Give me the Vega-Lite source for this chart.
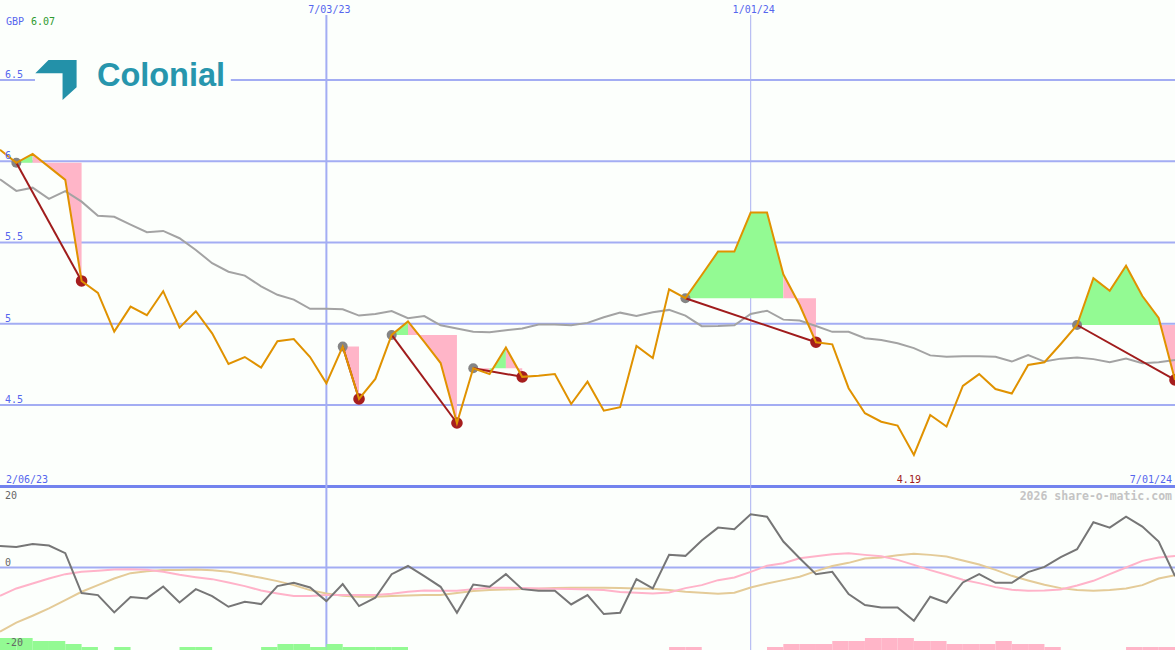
{
  "$schema": "https://vega.github.io/schema/vega-lite/v6.json",
  "width": 1175,
  "height": 650,
  "padding": 0,
  "autosize": {"type": "none"},
  "background": "#fcfffc",
  "config": {"view": {"stroke": null}, "text": {"font": "DejaVu Sans Mono", "fontSize": 10}},
  "datasets": {
    "w": [
      {"d": "2023-02-13", "p": 6.07, "m": 5.889, "k": 6.5, "s1": -8.5, "s2": -19.3},
      {"d": "2023-02-20", "p": 5.99, "m": 5.817, "k": 6.2, "s1": -6.3, "s2": -16.6},
      {"d": "2023-02-27", "p": 6.045, "m": 5.837, "k": 7.1, "s1": -4.8, "s2": -14.5},
      {"d": "2023-03-06", "p": 5.965, "m": 5.768, "k": 6.6, "s1": -3.3, "s2": -12.3},
      {"d": "2023-03-13", "p": 5.885, "m": 5.816, "k": 4.3, "s1": -2.0, "s2": -9.8},
      {"d": "2023-03-20", "p": 5.263, "m": 5.751, "k": -7.7, "s1": -1.3, "s2": -7.3},
      {"d": "2023-03-27", "p": 5.19, "m": 5.664, "k": -8.3, "s1": -1.0, "s2": -5.3},
      {"d": "2023-04-03", "p": 4.951, "m": 5.658, "k": -13.5, "s1": -0.6, "s2": -3.3},
      {"d": "2023-04-10", "p": 5.105, "m": 5.61, "k": -8.9, "s1": -0.5, "s2": -1.7},
      {"d": "2023-04-17", "p": 5.052, "m": 5.563, "k": -9.3, "s1": -0.7, "s2": -1.1},
      {"d": "2023-04-24", "p": 5.2, "m": 5.571, "k": -5.7, "s1": -1.3, "s2": -0.75},
      {"d": "2023-05-01", "p": 4.976, "m": 5.526, "k": -10.5, "s1": -2.2, "s2": -0.75},
      {"d": "2023-05-08", "p": 5.077, "m": 5.454, "k": -6.5, "s1": -2.9, "s2": -0.6},
      {"d": "2023-05-15", "p": 4.941, "m": 5.372, "k": -8.6, "s1": -3.5, "s2": -0.8},
      {"d": "2023-05-22", "p": 4.752, "m": 5.32, "k": -11.8, "s1": -4.5, "s2": -1.3},
      {"d": "2023-05-29", "p": 4.795, "m": 5.296, "k": -10.3, "s1": -5.6, "s2": -2.2},
      {"d": "2023-06-05", "p": 4.73, "m": 5.23, "k": -11.0, "s1": -6.9, "s2": -3.1},
      {"d": "2023-06-12", "p": 4.892, "m": 5.178, "k": -5.6, "s1": -7.8, "s2": -4.1},
      {"d": "2023-06-19", "p": 4.906, "m": 5.148, "k": -4.6, "s1": -8.6, "s2": -5.3},
      {"d": "2023-06-26", "p": 4.795, "m": 5.092, "k": -6.0, "s1": -8.6, "s2": -6.8},
      {"d": "2023-07-03", "p": 4.633, "m": 5.092, "k": -10.1, "s1": -8.3, "s2": -7.8},
      {"d": "2023-07-10", "p": 4.859, "m": 5.089, "k": -5.0, "s1": -8.3, "s2": -8.5},
      {"d": "2023-07-17", "p": 4.537, "m": 5.05, "k": -11.6, "s1": -8.3, "s2": -8.8},
      {"d": "2023-07-24", "p": 4.66, "m": 5.06, "k": -9.1, "s1": -8.3, "s2": -8.8},
      {"d": "2023-07-31", "p": 4.931, "m": 5.078, "k": -2.0, "s1": -7.9, "s2": -8.6},
      {"d": "2023-08-07", "p": 5.014, "m": 5.034, "k": 0.45, "s1": -7.3, "s2": -8.4},
      {"d": "2023-08-14", "p": 4.888, "m": 5.047, "k": -2.6, "s1": -6.9, "s2": -8.3},
      {"d": "2023-08-21", "p": 4.758, "m": 4.99, "k": -5.8, "s1": -7.0, "s2": -8.3},
      {"d": "2023-08-28", "p": 4.389, "m": 4.97, "k": -13.6, "s1": -7.0, "s2": -7.7},
      {"d": "2023-09-04", "p": 4.726, "m": 4.95, "k": -5.1, "s1": -6.5, "s2": -7.1},
      {"d": "2023-09-11", "p": 4.69, "m": 4.947, "k": -5.8, "s1": -6.1, "s2": -6.8},
      {"d": "2023-09-18", "p": 4.853, "m": 4.96, "k": -2.0, "s1": -6.1, "s2": -6.6},
      {"d": "2023-09-25", "p": 4.673, "m": 4.97, "k": -6.5, "s1": -6.2, "s2": -6.5},
      {"d": "2023-10-02", "p": 4.68, "m": 4.995, "k": -7.0, "s1": -6.3, "s2": -6.4},
      {"d": "2023-10-09", "p": 4.69, "m": 4.995, "k": -7.0, "s1": -6.4, "s2": -6.2},
      {"d": "2023-10-16", "p": 4.506, "m": 4.99, "k": -11.1, "s1": -6.5, "s2": -6.1},
      {"d": "2023-10-23", "p": 4.643, "m": 5.005, "k": -8.3, "s1": -6.6, "s2": -6.1},
      {"d": "2023-10-30", "p": 4.465, "m": 5.04, "k": -14.0, "s1": -6.8, "s2": -6.1},
      {"d": "2023-11-06", "p": 4.486, "m": 5.068, "k": -13.6, "s1": -7.4, "s2": -6.2},
      {"d": "2023-11-13", "p": 4.863, "m": 5.048, "k": -3.5, "s1": -7.6, "s2": -6.3},
      {"d": "2023-11-20", "p": 4.789, "m": 5.07, "k": -6.3, "s1": -7.8, "s2": -6.4},
      {"d": "2023-11-27", "p": 5.212, "m": 5.085, "k": 3.8, "s1": -7.5, "s2": -6.8},
      {"d": "2023-12-04", "p": 5.157, "m": 5.05, "k": 3.5, "s1": -6.2, "s2": -7.3},
      {"d": "2023-12-11", "p": 5.3, "m": 4.985, "k": 8.1, "s1": -5.3, "s2": -7.6},
      {"d": "2023-12-18", "p": 5.444, "m": 4.986, "k": 12.0, "s1": -3.8, "s2": -7.9},
      {"d": "2023-12-25", "p": 5.444, "m": 4.99, "k": 11.5, "s1": -3.0, "s2": -7.6},
      {"d": "2024-01-01", "p": 5.684, "m": 5.06, "k": 16.0, "s1": -1.3, "s2": -6.0},
      {"d": "2024-01-08", "p": 5.684, "m": 5.08, "k": 15.3, "s1": 0.5, "s2": -4.8},
      {"d": "2024-01-15", "p": 5.304, "m": 5.025, "k": 7.8, "s1": 1.3, "s2": -3.8},
      {"d": "2024-01-22", "p": 5.115, "m": 5.02, "k": 2.8, "s1": 2.8, "s2": -2.8},
      {"d": "2024-01-29", "p": 4.886, "m": 4.986, "k": -2.0, "s1": 3.4, "s2": -1.1},
      {"d": "2024-02-05", "p": 4.873, "m": 4.95, "k": -1.3, "s1": 4.0, "s2": 0.45},
      {"d": "2024-02-12", "p": 4.603, "m": 4.95, "k": -8.0, "s1": 4.3, "s2": 1.4},
      {"d": "2024-02-19", "p": 4.449, "m": 4.911, "k": -11.3, "s1": 3.8, "s2": 2.7},
      {"d": "2024-02-26", "p": 4.397, "m": 4.9, "k": -12.0, "s1": 3.4, "s2": 3.0},
      {"d": "2024-03-04", "p": 4.373, "m": 4.88, "k": -12.0, "s1": 2.3, "s2": 3.7},
      {"d": "2024-03-11", "p": 4.192, "m": 4.85, "k": -16.0, "s1": 0.8, "s2": 4.1},
      {"d": "2024-03-18", "p": 4.438, "m": 4.805, "k": -8.8, "s1": -0.8, "s2": 3.8},
      {"d": "2024-03-25", "p": 4.367, "m": 4.797, "k": -10.6, "s1": -2.2, "s2": 3.3},
      {"d": "2024-04-01", "p": 4.617, "m": 4.8, "k": -4.5, "s1": -3.7, "s2": 2.1},
      {"d": "2024-04-08", "p": 4.69, "m": 4.8, "k": -2.0, "s1": -4.7, "s2": 0.9},
      {"d": "2024-04-15", "p": 4.598, "m": 4.797, "k": -4.6, "s1": -5.9, "s2": -0.7},
      {"d": "2024-04-22", "p": 4.57, "m": 4.767, "k": -4.6, "s1": -6.7, "s2": -2.5},
      {"d": "2024-04-29", "p": 4.746, "m": 4.807, "k": -1.4, "s1": -7.0, "s2": -3.9},
      {"d": "2024-05-06", "p": 4.763, "m": 4.767, "k": 0.2, "s1": -6.9, "s2": -5.2},
      {"d": "2024-05-13", "p": 4.875, "m": 4.785, "k": 3.1, "s1": -6.6, "s2": -6.2},
      {"d": "2024-05-20", "p": 4.992, "m": 4.792, "k": 5.5, "s1": -5.4, "s2": -6.8},
      {"d": "2024-05-27", "p": 5.28, "m": 4.782, "k": 13.6, "s1": -4.0, "s2": -7.0},
      {"d": "2024-06-03", "p": 5.203, "m": 4.763, "k": 12.0, "s1": -2.0, "s2": -6.8},
      {"d": "2024-06-10", "p": 5.357, "m": 4.785, "k": 15.3, "s1": 0.0, "s2": -6.3},
      {"d": "2024-06-17", "p": 5.17, "m": 4.757, "k": 12.3, "s1": 2.0, "s2": -5.3},
      {"d": "2024-06-24", "p": 5.035, "m": 4.763, "k": 7.8, "s1": 3.0, "s2": -3.3},
      {"d": "2024-07-01", "p": 4.654, "m": 4.777, "k": -2.6, "s1": 3.5, "s2": -2.3}
    ],
    "fills": [
      {"r": "A", "c": "up", "d": "2023-02-20", "p": 5.99, "b": 5.99},
      {"r": "A", "c": "up", "d": "2023-02-27", "p": 6.045, "b": 5.99},
      {"r": "B", "c": "down", "d": "2023-02-27", "p": 6.045, "b": 5.99},
      {"r": "B", "c": "down", "d": "2023-03-06", "p": 5.965, "b": 5.99},
      {"r": "B", "c": "down", "d": "2023-03-13", "p": 5.885, "b": 5.99},
      {"r": "B", "c": "down", "d": "2023-03-20", "p": 5.263, "b": 5.99},
      {"r": "C", "c": "down", "d": "2023-07-10", "p": 4.859, "b": 4.859},
      {"r": "C", "c": "down", "d": "2023-07-17", "p": 4.537, "b": 4.859},
      {"r": "D", "c": "up", "d": "2023-07-31", "p": 4.931, "b": 4.931},
      {"r": "D", "c": "up", "d": "2023-08-07", "p": 5.014, "b": 4.931},
      {"r": "E", "c": "down", "d": "2023-08-07", "p": 5.014, "b": 4.931},
      {"r": "E", "c": "down", "d": "2023-08-14", "p": 4.888, "b": 4.931},
      {"r": "E", "c": "down", "d": "2023-08-21", "p": 4.758, "b": 4.931},
      {"r": "E", "c": "down", "d": "2023-08-28", "p": 4.389, "b": 4.931},
      {"r": "F", "c": "down", "d": "2023-09-04", "p": 4.726, "b": 4.726},
      {"r": "F", "c": "down", "d": "2023-09-11", "p": 4.69, "b": 4.726},
      {"r": "G", "c": "up", "d": "2023-09-11", "p": 4.69, "b": 4.726},
      {"r": "G", "c": "up", "d": "2023-09-18", "p": 4.853, "b": 4.726},
      {"r": "H", "c": "down", "d": "2023-09-18", "p": 4.853, "b": 4.726},
      {"r": "H", "c": "down", "d": "2023-09-25", "p": 4.673, "b": 4.726},
      {"r": "I", "c": "up", "d": "2023-12-04", "p": 5.157, "b": 5.157},
      {"r": "I", "c": "up", "d": "2023-12-11", "p": 5.3, "b": 5.157},
      {"r": "I", "c": "up", "d": "2023-12-18", "p": 5.444, "b": 5.157},
      {"r": "I", "c": "up", "d": "2023-12-25", "p": 5.444, "b": 5.157},
      {"r": "I", "c": "up", "d": "2024-01-01", "p": 5.684, "b": 5.157},
      {"r": "I", "c": "up", "d": "2024-01-08", "p": 5.684, "b": 5.157},
      {"r": "I", "c": "up", "d": "2024-01-15", "p": 5.304, "b": 5.157},
      {"r": "J", "c": "down", "d": "2024-01-15", "p": 5.304, "b": 5.157},
      {"r": "J", "c": "down", "d": "2024-01-22", "p": 5.115, "b": 5.157},
      {"r": "J", "c": "down", "d": "2024-01-29", "p": 4.886, "b": 5.157},
      {"r": "K", "c": "up", "d": "2024-05-20", "p": 4.992, "b": 4.992},
      {"r": "K", "c": "up", "d": "2024-05-27", "p": 5.28, "b": 4.992},
      {"r": "K", "c": "up", "d": "2024-06-03", "p": 5.203, "b": 4.992},
      {"r": "K", "c": "up", "d": "2024-06-10", "p": 5.357, "b": 4.992},
      {"r": "K", "c": "up", "d": "2024-06-17", "p": 5.17, "b": 4.992},
      {"r": "K", "c": "up", "d": "2024-06-24", "p": 5.035, "b": 4.992},
      {"r": "L", "c": "down", "d": "2024-06-24", "p": 5.035, "b": 4.992},
      {"r": "L", "c": "down", "d": "2024-07-01", "p": 4.654, "b": 4.992}
    ],
    "trades": [
      {"d1": "2023-02-20", "p1": 5.99, "d2": "2023-03-20", "p2": 5.263},
      {"d1": "2023-07-10", "p1": 4.859, "d2": "2023-07-17", "p2": 4.537},
      {"d1": "2023-07-31", "p1": 4.931, "d2": "2023-08-28", "p2": 4.389},
      {"d1": "2023-09-04", "p1": 4.726, "d2": "2023-09-25", "p2": 4.673},
      {"d1": "2023-12-04", "p1": 5.157, "d2": "2024-01-29", "p2": 4.886},
      {"d1": "2024-05-20", "p1": 4.992, "d2": "2024-07-01", "p2": 4.654}
    ],
    "grid": [
      {"d1": "2023-02-13", "d2": "2023-02-28", "v": 6.5},
      {"d1": "2023-05-23", "d2": "2024-07-01", "v": 6.5},
      {"d1": "2023-02-13", "d2": "2024-07-01", "v": 6},
      {"d1": "2023-02-13", "d2": "2024-07-01", "v": 5.5},
      {"d1": "2023-02-13", "d2": "2024-07-01", "v": 5},
      {"d1": "2023-02-13", "d2": "2024-07-01", "v": 4.5}
    ],
    "plabels": [
      {"d": "2023-02-13", "v": 6.5, "t": "6.5"},
      {"d": "2023-02-13", "v": 6, "t": "6"},
      {"d": "2023-02-13", "v": 5.5, "t": "5.5"},
      {"d": "2023-02-13", "v": 5, "t": "5"},
      {"d": "2023-02-13", "v": 4.5, "t": "4.5"}
    ],
    "bars": [
      {"d": "2023-02-13", "d2": "2023-02-20", "h": 4, "c": "up"},
      {"d": "2023-02-20", "d2": "2023-02-27", "h": 4, "c": "up"},
      {"d": "2023-02-27", "d2": "2023-03-06", "h": 3, "c": "up"},
      {"d": "2023-03-06", "d2": "2023-03-13", "h": 3, "c": "up"},
      {"d": "2023-03-13", "d2": "2023-03-20", "h": 2, "c": "up"},
      {"d": "2023-03-20", "d2": "2023-03-27", "h": 1, "c": "up"},
      {"d": "2023-04-03", "d2": "2023-04-10", "h": 1, "c": "up"},
      {"d": "2023-05-01", "d2": "2023-05-08", "h": 1, "c": "up"},
      {"d": "2023-05-08", "d2": "2023-05-15", "h": 1, "c": "up"},
      {"d": "2023-06-05", "d2": "2023-06-12", "h": 1, "c": "up"},
      {"d": "2023-06-12", "d2": "2023-06-19", "h": 2, "c": "up"},
      {"d": "2023-06-19", "d2": "2023-06-26", "h": 2, "c": "up"},
      {"d": "2023-06-26", "d2": "2023-07-03", "h": 1, "c": "up"},
      {"d": "2023-07-03", "d2": "2023-07-10", "h": 2, "c": "up"},
      {"d": "2023-07-10", "d2": "2023-07-17", "h": 1, "c": "up"},
      {"d": "2023-07-17", "d2": "2023-07-24", "h": 1, "c": "up"},
      {"d": "2023-07-24", "d2": "2023-07-31", "h": 1, "c": "up"},
      {"d": "2023-07-31", "d2": "2023-08-07", "h": 1, "c": "up"},
      {"d": "2023-11-27", "d2": "2023-12-04", "h": 1, "c": "down"},
      {"d": "2023-12-04", "d2": "2023-12-11", "h": 1, "c": "down"},
      {"d": "2024-01-08", "d2": "2024-01-15", "h": 1, "c": "down"},
      {"d": "2024-01-15", "d2": "2024-01-22", "h": 2, "c": "down"},
      {"d": "2024-01-22", "d2": "2024-01-29", "h": 2, "c": "down"},
      {"d": "2024-01-29", "d2": "2024-02-05", "h": 2, "c": "down"},
      {"d": "2024-02-05", "d2": "2024-02-12", "h": 3, "c": "down"},
      {"d": "2024-02-12", "d2": "2024-02-19", "h": 3, "c": "down"},
      {"d": "2024-02-19", "d2": "2024-02-26", "h": 4, "c": "down"},
      {"d": "2024-02-26", "d2": "2024-03-04", "h": 4, "c": "down"},
      {"d": "2024-03-04", "d2": "2024-03-11", "h": 4, "c": "down"},
      {"d": "2024-03-11", "d2": "2024-03-18", "h": 3, "c": "down"},
      {"d": "2024-03-18", "d2": "2024-03-25", "h": 3, "c": "down"},
      {"d": "2024-03-25", "d2": "2024-04-01", "h": 2, "c": "down"},
      {"d": "2024-04-01", "d2": "2024-04-08", "h": 2, "c": "down"},
      {"d": "2024-04-08", "d2": "2024-04-15", "h": 2, "c": "down"},
      {"d": "2024-04-15", "d2": "2024-04-22", "h": 3, "c": "down"},
      {"d": "2024-04-22", "d2": "2024-04-29", "h": 2, "c": "down"},
      {"d": "2024-04-29", "d2": "2024-05-06", "h": 2, "c": "down"},
      {"d": "2024-05-06", "d2": "2024-05-13", "h": 1, "c": "down"},
      {"d": "2024-06-10", "d2": "2024-06-17", "h": 1, "c": "down"},
      {"d": "2024-06-17", "d2": "2024-06-24", "h": 1, "c": "down"},
      {"d": "2024-06-24", "d2": "2024-07-01", "h": 1, "c": "down"}
    ]
  },
  "layer": [
    {
      "layer": [
        {
          "data": {"name": "grid"},
          "mark": {"type": "rule", "color": "#a3adf3", "strokeWidth": 2},
          "encoding": {
            "x": {"field": "d1", "type": "temporal", "scale": {"type": "utc", "domain": [1676246400000, 1719792000000]}, "axis": null},
            "x2": {"field": "d2"},
            "y": {"field": "v", "type": "quantitative", "scale": {"domain": [2.992, 6.992], "nice": false, "zero": false}, "axis": null}
          }
        },
        {
          "data": {"values": [{"v": 3.998}]},
          "mark": {"type": "rule", "color": "#7383ee", "strokeWidth": 3},
          "encoding": {
            "y": {"field": "v", "type": "quantitative", "scale": {"domain": [2.992, 6.992], "nice": false, "zero": false}, "axis": null}
          }
        },
        {
          "data": {"values": [{"d": "2023-07-03", "top": 6.9, "bot": 2.992}]},
          "mark": {"type": "rule", "color": "#a3adf3", "strokeWidth": 2},
          "encoding": {
            "x": {"field": "d", "type": "temporal", "scale": {"type": "utc", "domain": [1676246400000, 1719792000000]}, "axis": null},
            "y": {"field": "top", "type": "quantitative", "scale": {"domain": [2.992, 6.992], "nice": false, "zero": false}, "axis": null},
            "y2": {"field": "bot"}
          }
        },
        {
          "data": {"values": [{"d": "2024-01-01", "top": 6.9, "bot": 2.992}]},
          "mark": {"type": "rule", "color": "#a9b1f0", "strokeWidth": 1},
          "encoding": {
            "x": {"field": "d", "type": "temporal", "scale": {"type": "utc", "domain": [1676246400000, 1719792000000]}, "axis": null},
            "y": {"field": "top", "type": "quantitative", "scale": {"domain": [2.992, 6.992], "nice": false, "zero": false}, "axis": null},
            "y2": {"field": "bot"}
          }
        },
        {
          "data": {"name": "fills"},
          "mark": {"type": "area", "opacity": 1},
          "encoding": {
            "x": {"field": "d", "type": "temporal", "scale": {"type": "utc", "domain": [1676246400000, 1719792000000]}, "axis": null},
            "y": {"field": "p", "type": "quantitative", "scale": {"domain": [2.992, 6.992], "nice": false, "zero": false}, "axis": null},
            "y2": {"field": "b"},
            "detail": {"field": "r"},
            "color": {"field": "c", "type": "nominal", "scale": {"domain": ["up", "down"], "range": ["#93fa93", "#ffb5c8"]}, "legend": null}
          }
        },
        {
          "data": {"name": "w"},
          "mark": {"type": "line", "color": "#a3a3a3", "strokeWidth": 2},
          "encoding": {
            "x": {"field": "d", "type": "temporal", "scale": {"type": "utc", "domain": [1676246400000, 1719792000000]}, "axis": null},
            "y": {"field": "m", "type": "quantitative", "scale": {"domain": [2.992, 6.992], "nice": false, "zero": false}, "axis": null}
          }
        },
        {
          "data": {"name": "trades"},
          "mark": {"type": "point", "filled": true, "color": "#858585", "size": 100, "opacity": 1},
          "encoding": {
            "x": {"field": "d1", "type": "temporal", "scale": {"type": "utc", "domain": [1676246400000, 1719792000000]}, "axis": null},
            "y": {"field": "p1", "type": "quantitative", "scale": {"domain": [2.992, 6.992], "nice": false, "zero": false}, "axis": null}
          }
        },
        {
          "data": {"name": "trades"},
          "mark": {"type": "point", "filled": true, "color": "#a61e1e", "size": 135, "opacity": 1},
          "encoding": {
            "x": {"field": "d2", "type": "temporal", "scale": {"type": "utc", "domain": [1676246400000, 1719792000000]}, "axis": null},
            "y": {"field": "p2", "type": "quantitative", "scale": {"domain": [2.992, 6.992], "nice": false, "zero": false}, "axis": null}
          }
        },
        {
          "data": {"name": "trades"},
          "mark": {"type": "rule", "color": "#a01c1c", "strokeWidth": 2},
          "encoding": {
            "x": {"field": "d1", "type": "temporal", "scale": {"type": "utc", "domain": [1676246400000, 1719792000000]}, "axis": null},
            "x2": {"field": "d2"},
            "y": {"field": "p1", "type": "quantitative", "scale": {"domain": [2.992, 6.992], "nice": false, "zero": false}, "axis": null},
            "y2": {"field": "p2"}
          }
        },
        {
          "data": {"name": "w"},
          "mark": {"type": "line", "color": "#e09200", "strokeWidth": 2},
          "encoding": {
            "x": {"field": "d", "type": "temporal", "scale": {"type": "utc", "domain": [1676246400000, 1719792000000]}, "axis": null},
            "y": {"field": "p", "type": "quantitative", "scale": {"domain": [2.992, 6.992], "nice": false, "zero": false}, "axis": null}
          }
        },
        {
          "data": {"name": "plabels"},
          "mark": {"type": "text", "align": "left", "baseline": "alphabetic", "dx": 5, "dy": -2, "color": "#5566ee"},
          "encoding": {
            "x": {"field": "d", "type": "temporal", "scale": {"type": "utc", "domain": [1676246400000, 1719792000000]}, "axis": null},
            "y": {"field": "v", "type": "quantitative", "scale": {"domain": [2.992, 6.992], "nice": false, "zero": false}, "axis": null},
            "text": {"field": "t"}
          }
        },
        {
          "data": {"values": [{"d": "2023-07-03", "v": 6.914, "t": "7/03/23"}, {"d": "2024-01-01", "v": 6.914, "t": "1/01/24"}]},
          "mark": {"type": "text", "align": "center", "baseline": "alphabetic", "dx": 3, "color": "#5566ee"},
          "encoding": {
            "x": {"field": "d", "type": "temporal", "scale": {"type": "utc", "domain": [1676246400000, 1719792000000]}, "axis": null},
            "y": {"field": "v", "type": "quantitative", "scale": {"domain": [2.992, 6.992], "nice": false, "zero": false}, "axis": null},
            "text": {"field": "t"}
          }
        },
        {
          "data": {"values": [{"d": "2023-02-13", "v": 6.838, "t": "GBP"}, {"d": "2023-02-13", "v": 4.022, "t": "2/06/23"}]},
          "mark": {"type": "text", "align": "left", "baseline": "alphabetic", "dx": 6, "color": "#5566ee"},
          "encoding": {
            "x": {"field": "d", "type": "temporal", "scale": {"type": "utc", "domain": [1676246400000, 1719792000000]}, "axis": null},
            "y": {"field": "v", "type": "quantitative", "scale": {"domain": [2.992, 6.992], "nice": false, "zero": false}, "axis": null},
            "text": {"field": "t"}
          }
        },
        {
          "data": {"values": [{"d": "2023-02-13", "v": 6.838, "t": "6.07"}]},
          "mark": {"type": "text", "align": "left", "baseline": "alphabetic", "dx": 31, "color": "#2f9a2f"},
          "encoding": {
            "x": {"field": "d", "type": "temporal", "scale": {"type": "utc", "domain": [1676246400000, 1719792000000]}, "axis": null},
            "y": {"field": "v", "type": "quantitative", "scale": {"domain": [2.992, 6.992], "nice": false, "zero": false}, "axis": null},
            "text": {"field": "t"}
          }
        },
        {
          "data": {"values": [{"d": "2024-07-01", "v": 4.022, "t": "7/01/24"}]},
          "mark": {"type": "text", "align": "right", "baseline": "alphabetic", "dx": -3, "color": "#5566ee"},
          "encoding": {
            "x": {"field": "d", "type": "temporal", "scale": {"type": "utc", "domain": [1676246400000, 1719792000000]}, "axis": null},
            "y": {"field": "v", "type": "quantitative", "scale": {"domain": [2.992, 6.992], "nice": false, "zero": false}, "axis": null},
            "text": {"field": "t"}
          }
        },
        {
          "data": {"values": [{"d": "2024-03-11", "v": 4.022, "t": "4.19"}]},
          "mark": {"type": "text", "align": "center", "baseline": "alphabetic", "dx": -5, "color": "#a01c1c"},
          "encoding": {
            "x": {"field": "d", "type": "temporal", "scale": {"type": "utc", "domain": [1676246400000, 1719792000000]}, "axis": null},
            "y": {"field": "v", "type": "quantitative", "scale": {"domain": [2.992, 6.992], "nice": false, "zero": false}, "axis": null},
            "text": {"field": "t"}
          }
        },
        {
          "data": {"values": [{"d": "2023-03-09", "v": 6.5}]},
          "mark": {"type": "point", "filled": true, "opacity": 1, "color": "#2391a9", "size": 1705, "dx": 1, "shape": "M-0.36,-0.97L1,-0.97L1,0.35L0.32,0.97L0.32,-0.32L-1,-0.32Z"},
          "encoding": {
            "x": {"field": "d", "type": "temporal", "scale": {"type": "utc", "domain": [1676246400000, 1719792000000]}, "axis": null},
            "y": {"field": "v", "type": "quantitative", "scale": {"domain": [2.992, 6.992], "nice": false, "zero": false}, "axis": null}
          }
        },
        {
          "data": {"values": [{"d": "2023-03-27", "v": 6.463, "t": "Colonial"}]},
          "mark": {"type": "text", "align": "left", "baseline": "alphabetic", "dx": -1, "font": "Liberation Sans", "fontWeight": "bold", "fontSize": 32.5, "color": "#2796ad"},
          "encoding": {
            "x": {"field": "d", "type": "temporal", "scale": {"type": "utc", "domain": [1676246400000, 1719792000000]}, "axis": null},
            "y": {"field": "v", "type": "quantitative", "scale": {"domain": [2.992, 6.992], "nice": false, "zero": false}, "axis": null},
            "text": {"field": "t"}
          }
        }
      ]
    },
    {
      "layer": [
        {
          "data": {"name": "bars"},
          "mark": {"type": "rect"},
          "encoding": {
            "x": {"field": "d", "type": "temporal", "scale": {"type": "utc", "domain": [1676246400000, 1719792000000]}, "axis": null},
            "x2": {"field": "d2"},
            "y": {"field": "h", "type": "quantitative", "scale": {"domain": [0, 216.67], "nice": false, "zero": false}, "axis": null},
            "y2": {"datum": 0},
            "color": {"field": "c", "type": "nominal", "scale": {"domain": ["up", "down"], "range": ["#93fa93", "#ffb5c8"]}, "legend": null}
          }
        }
      ]
    },
    {
      "layer": [
        {
          "data": {"values": [{"v": 0}]},
          "mark": {"type": "rule", "color": "#a3adf3", "strokeWidth": 2},
          "encoding": {
            "y": {"field": "v", "type": "quantitative", "scale": {"domain": [-24.81, 170.68], "nice": false, "zero": false}, "axis": null}
          }
        },
        {
          "data": {"name": "w"},
          "mark": {"type": "line", "color": "#e4cb98", "strokeWidth": 2},
          "encoding": {
            "x": {"field": "d", "type": "temporal", "scale": {"type": "utc", "domain": [1676246400000, 1719792000000]}, "axis": null},
            "y": {"field": "s2", "type": "quantitative", "scale": {"domain": [-24.81, 170.68], "nice": false, "zero": false}, "axis": null}
          }
        },
        {
          "data": {"name": "w"},
          "mark": {"type": "line", "color": "#ffb3c9", "strokeWidth": 2},
          "encoding": {
            "x": {"field": "d", "type": "temporal", "scale": {"type": "utc", "domain": [1676246400000, 1719792000000]}, "axis": null},
            "y": {"field": "s1", "type": "quantitative", "scale": {"domain": [-24.81, 170.68], "nice": false, "zero": false}, "axis": null}
          }
        },
        {
          "data": {"name": "w"},
          "mark": {"type": "line", "color": "#767676", "strokeWidth": 2},
          "encoding": {
            "x": {"field": "d", "type": "temporal", "scale": {"type": "utc", "domain": [1676246400000, 1719792000000]}, "axis": null},
            "y": {"field": "k", "type": "quantitative", "scale": {"domain": [-24.81, 170.68], "nice": false, "zero": false}, "axis": null}
          }
        },
        {
          "data": {"values": [{"d": "2023-02-13", "v": 20, "t": "20"}, {"d": "2023-02-13", "v": 0, "t": "0"}]},
          "mark": {"type": "text", "align": "left", "baseline": "alphabetic", "dx": 5, "dy": -2, "color": "#666666"},
          "encoding": {
            "x": {"field": "d", "type": "temporal", "scale": {"type": "utc", "domain": [1676246400000, 1719792000000]}, "axis": null},
            "y": {"field": "v", "type": "quantitative", "scale": {"domain": [-24.81, 170.68], "nice": false, "zero": false}, "axis": null},
            "text": {"field": "t"}
          }
        },
        {
          "data": {"values": [{"d": "2023-02-13", "v": -20, "t": "-20"}]},
          "mark": {"type": "text", "align": "left", "baseline": "alphabetic", "dx": 5, "dy": 12, "color": "#666666"},
          "encoding": {
            "x": {"field": "d", "type": "temporal", "scale": {"type": "utc", "domain": [1676246400000, 1719792000000]}, "axis": null},
            "y": {"field": "v", "type": "quantitative", "scale": {"domain": [-24.81, 170.68], "nice": false, "zero": false}, "axis": null},
            "text": {"field": "t"}
          }
        },
        {
          "data": {"values": [{"d": "2024-07-01", "v": 20, "t": "2026 share-o-matic.com"}]},
          "mark": {"type": "text", "align": "right", "baseline": "alphabetic", "dx": -3, "dy": -1, "fontSize": 11.5, "fontWeight": "bold", "color": "#c4c4c4"},
          "encoding": {
            "x": {"field": "d", "type": "temporal", "scale": {"type": "utc", "domain": [1676246400000, 1719792000000]}, "axis": null},
            "y": {"field": "v", "type": "quantitative", "scale": {"domain": [-24.81, 170.68], "nice": false, "zero": false}, "axis": null},
            "text": {"field": "t"}
          }
        }
      ]
    }
  ],
  "resolve": {"scale": {"y": "independent"}}
}
